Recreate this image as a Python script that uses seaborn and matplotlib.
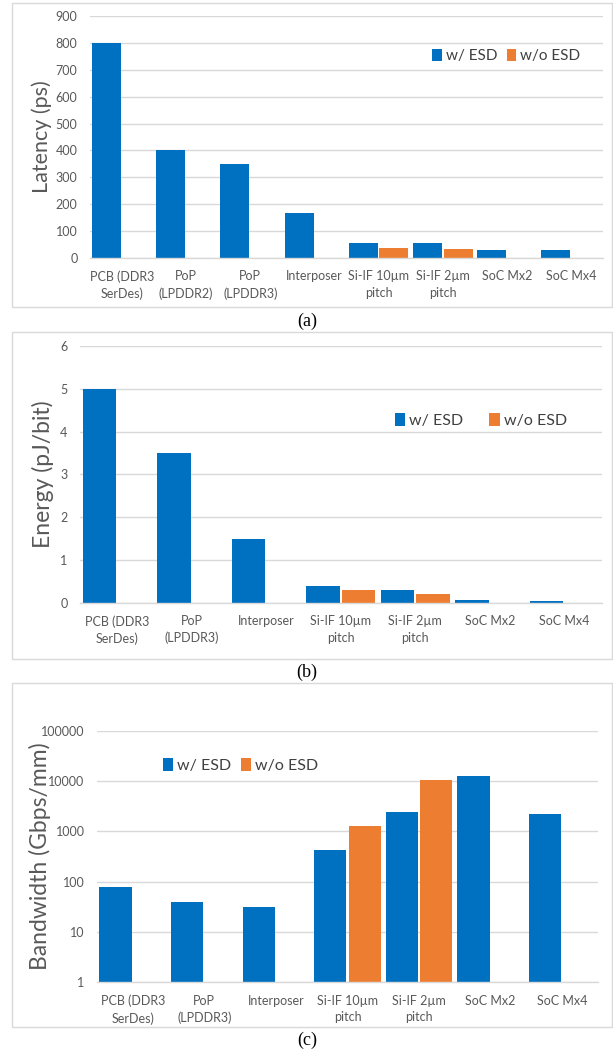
import matplotlib
matplotlib.use("Agg")
import matplotlib.pyplot as plt
from matplotlib.patches import Patch, Rectangle
from matplotlib.transforms import blended_transform_factory
import pandas as pd
import seaborn as sns

# ---- data -------------------------------------------------------------
lat_cats = ["PCB (DDR3\nSerDes)", "PoP\n(LPDDR2)", "PoP\n(LPDDR3)", "Interposer",
            "Si-IF 10µm\npitch", "Si-IF 2µm\npitch", "SoC Mx2", "SoC Mx4"]
lat_with = [800, 400, 350, 168, 57, 55, 29, 29]
lat_without = [None, None, None, None, 39, 35, None, None]

en_cats = ["PCB (DDR3\nSerDes)", "PoP\n(LPDDR3)", "Interposer",
           "Si-IF 10µm\npitch", "Si-IF 2µm\npitch", "SoC Mx2", "SoC Mx4"]
en_with = [5.0, 3.5, 1.5, 0.4, 0.3, 0.06, 0.03]
en_without = [None, None, None, 0.3, 0.2, None, None]

bw_cats = en_cats
bw_with = [80, 40, 32, 420, 2400, 12600, 2200]
bw_without = [None, None, None, 1270, 10300, None, None]

series = ["w/ ESD", "w/o ESD"]
colors = {"w/ ESD": "#0070C0", "w/o ESD": "#ED7D31"}

lat_ticks = [0, 100, 200, 300, 400, 500, 600, 700, 800, 900]
en_ticks = [0, 1, 2, 3, 4, 5, 6]
bw_ticks = [1, 10, 100, 1000, 10000, 100000]

# ---- helpers ----------------------------------------------------------
W, H = 613, 1053
GRID = "#d9d9d9"
TXT = "#595959"


def long_form(cats, with_vals, without_vals):
    rows = []
    for c, a, b in zip(cats, with_vals, without_vals):
        rows.append({"cat": c, "esd": series[0], "val": a})
        if b is not None:
            rows.append({"cat": c, "esd": series[1], "val": b})
    return pd.DataFrame(rows)


def px_axes(fig, left, right, top, bottom):
    return fig.add_axes([left / W, 1 - bottom / H, (right - left) / W, (bottom - top) / H])


def panel(fig, box, cats, wv, wov, ticks, ylabel, label_x, legend_anchor, legend_gap,
          log=False, ylab_size=15, leg_size=11):
    ax = px_axes(fig, *box)
    df = long_form(cats, wv, wov)
    sns.barplot(data=df, x="cat", y="val", hue="esd", hue_order=series, order=cats,
                palette=colors, saturation=1, width=0.96, gap=0.06, linewidth=0,
                ax=ax, errorbar=None, legend=False, zorder=3)
    if log:
        ax.set_yscale("log")
        ax.set_ylim(ticks[0], ticks[-1])
        ax.set_yticks(ticks)
        ax.set_yticklabels([str(t) for t in ticks])
        ax.minorticks_off()
    else:
        ax.set_ylim(ticks[0], ticks[-1])
        ax.set_yticks(ticks)
    ax.set_xlim(-0.5, len(cats) - 0.5)
    ax.grid(axis="y", color=GRID, linewidth=1.0, zorder=0)
    ax.grid(axis="x", visible=False)
    for s in ["top", "right", "left"]:
        ax.spines[s].set_visible(False)
    ax.spines["bottom"].set_color(GRID)
    ax.spines["bottom"].set_linewidth(1.0)
    ax.spines["bottom"].set_zorder(4)
    ax.tick_params(axis="both", length=0, colors=TXT, labelsize=9)
    ax.tick_params(axis="y", pad=9)
    ax.tick_params(axis="x", pad=9)
    for lab in ax.get_xticklabels():
        lab.set_linespacing(1.45)
    ax.set_xlabel("")
    ax.set_ylabel(ylabel, color=TXT, fontsize=ylab_size, va="center")
    ax.yaxis.set_label_coords(label_x / W, 0.5,
                              transform=blended_transform_factory(fig.transFigure, ax.transAxes))
    ax.set_facecolor("white")
    handles = [Patch(facecolor=colors[s], edgecolor="none", label=s) for s in series]
    leg = ax.legend(handles=handles, loc="center left", bbox_to_anchor=legend_anchor,
                    ncol=2, frameon=False, fontsize=leg_size, handlelength=0.65,
                    handleheight=0.85, handletextpad=0.25, columnspacing=legend_gap,
                    borderaxespad=0)
    for t in leg.get_texts():
        t.set_color("#404040")
    return ax


sns.set_theme(style="white")
plt.rcParams["font.family"] = ["Lato", "DejaVu Sans"]

fig = plt.figure(figsize=(W / 100, H / 100), dpi=100)
fig.patch.set_facecolor("white")

# panel frames
for (x0, y0, x1, y1) in [(12, 3, 612, 307), (12, 332, 612, 659), (12, 683, 612, 1027)]:
    fig.patches.append(Rectangle((x0 / W, 1 - y1 / H), (x1 - x0) / W, (y1 - y0) / H,
                                 transform=fig.transFigure, facecolor="none",
                                 edgecolor=GRID, linewidth=1.0))

panel(fig, (90, 603, 16, 258), lat_cats, lat_with, lat_without, lat_ticks,
      "Latency (ps)", 42, (0.655, 0.835), 0.6, ylab_size=15.5, leg_size=11)

panel(fig, (80, 601.5, 346, 602.7), en_cats, en_with, en_without, en_ticks,
      "Energy (pJ/bit)", 43, (0.592, 0.709), 1.6, ylab_size=16.5, leg_size=11.5)

panel(fig, (97, 598, 730.7, 982.3), bw_cats, bw_with, bw_without, bw_ticks,
      "Bandwidth (Gbps/mm)", 40, (0.118, 0.86), 0.6, log=True, ylab_size=16.5,
      leg_size=11.5)

for txt, y in [("(a)", 321), ("(b)", 672), ("(c)", 1040)]:
    fig.text(307 / W, 1 - y / H, txt, ha="center", va="center", fontsize=13,
             family=["Liberation Serif", "DejaVu Serif"], color="black")

fig.savefig("out.png", dpi=100, facecolor="white")
